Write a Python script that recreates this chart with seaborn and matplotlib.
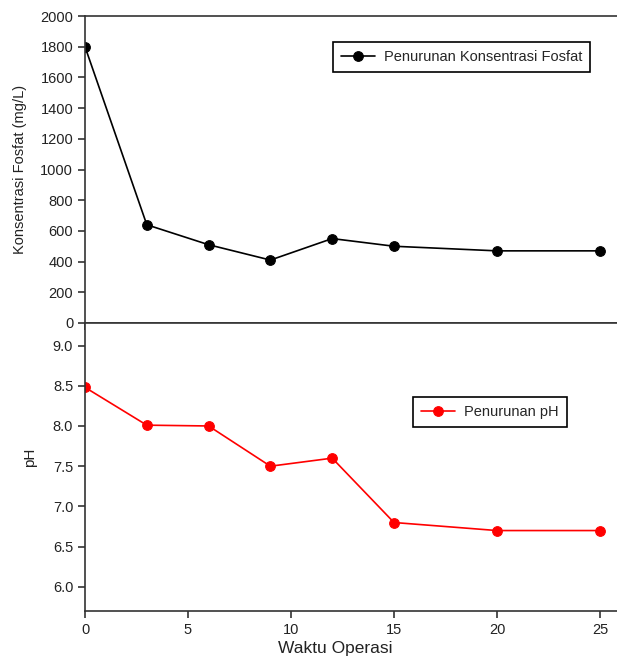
import matplotlib
matplotlib.use("Agg")
import matplotlib.pyplot as plt
import seaborn as sns
import pandas as pd

# Operating time (x) and the two measured series
waktu = [0, 3, 6, 9, 12, 15, 20, 25]
fosfat = [1800, 640, 510, 410, 550, 500, 470, 470]
ph = [8.48, 8.01, 8.00, 7.50, 7.60, 6.80, 6.70, 6.70]

x_ticks = [0, 5, 10, 15, 20, 25]
fosfat_ticks = [0, 200, 400, 600, 800, 1000, 1200, 1400, 1600, 1800, 2000]
ph_ticks = [6.0, 6.5, 7.0, 7.5, 8.0, 8.5, 9.0]

sns.set_theme(style="white")
plt.rcParams["font.family"] = ["Liberation Sans", "DejaVu Sans"]

df = pd.DataFrame({"waktu": waktu, "fosfat": fosfat, "ph": ph})

W, H = 617, 660
fig = plt.figure(figsize=(W / 100, H / 100), dpi=100)
left = 85 / W
width = (W - 85) / W
ax1 = fig.add_axes([left, 1 - 323 / H, width, (323 - 16) / H])
ax2 = fig.add_axes([left, 1 - 611 / H, width, (611 - 323) / H])

spine_col = "#333333"
tick_col = "#222222"

sns.lineplot(data=df, x="waktu", y="fosfat", ax=ax1, color="black",
             marker="o", markersize=7, markeredgecolor="black",
             linewidth=1.2, label="Penurunan Konsentrasi Fosfat")
sns.lineplot(data=df, x="waktu", y="ph", ax=ax2, color="#ff0000",
             marker="o", markersize=7, markeredgecolor="#ff0000",
             linewidth=1.2, label="Penurunan pH")

xmax = (W - 85) / 20.6
for ax in (ax1, ax2):
    ax.set_xlim(0, xmax)
    ax.set_xticks(x_ticks)
    ax.spines["right"].set_visible(False)
    for s in ("left", "bottom", "top"):
        ax.spines[s].set_color(spine_col)
        ax.spines[s].set_linewidth(1.2)
    ax.tick_params(axis="both", direction="out", length=5, width=1.2,
                   color=spine_col, labelsize=10.5, labelcolor=tick_col,
                   left=True, bottom=True)
    ax.set_facecolor("white")

ax1.set_ylim(0, 2000)
ax1.set_yticks(fosfat_ticks)
ax1.tick_params(axis="x", labelbottom=False)
ax1.set_xlabel("")
ax1.set_ylabel("Konsentrasi Fosfat (mg/L)", fontsize=10.5, color=tick_col)

ax2.set_ylim(5.7, 9.28)
ax2.set_yticks(ph_ticks)
ax2.set_yticklabels([f"{v:.1f}" for v in ph_ticks])
ax2.set_xlabel("Waktu Operasi", fontsize=12.5, color=tick_col)
ax2.set_ylabel("pH", fontsize=11, color=tick_col)
ax2.xaxis.set_label_coords(0.47, -0.105)
ax2.yaxis.set_label_coords(-0.09, 0.535)
ax1.yaxis.set_label_coords(-0.109, 0.5)

leg_kw = dict(loc="upper left", fancybox=False, edgecolor="black", fontsize=10.5,
              framealpha=1, handlelength=2.3, borderpad=0.55, handletextpad=0.65,
              borderaxespad=0)
leg1 = ax1.legend(bbox_to_anchor=((333 - 85) / (W - 85), 1 - (42 - 16) / 307), **leg_kw)
leg1.get_frame().set_linewidth(1.2)
leg2 = ax2.legend(bbox_to_anchor=((413 - 85) / (W - 85), 1 - (397 - 323) / 288), **leg_kw)
leg2.get_frame().set_linewidth(1.2)

fig.savefig("out.png", dpi=100, facecolor="white")
